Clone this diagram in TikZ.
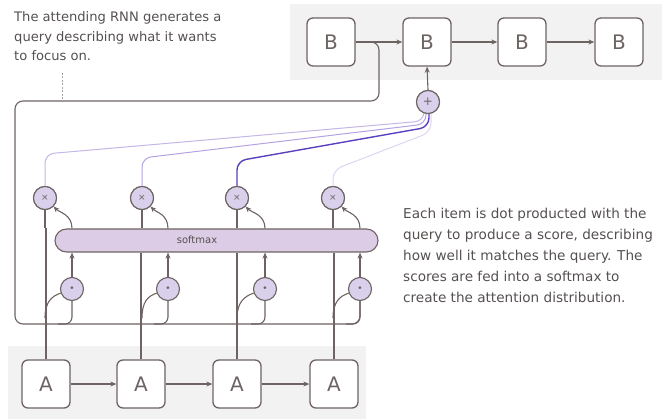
\documentclass[tikz,border=0pt]{standalone}
\usepackage{fontspec}
\setmainfont{DejaVu Sans}
\usetikzlibrary{arrows.meta,calc}
\definecolor{ln}{HTML}{6E6363}
\definecolor{txt}{HTML}{555050}
\definecolor{bg}{HTML}{F3F2F3}
\definecolor{circfill}{HTML}{D9D0EC}
\definecolor{smfill}{HTML}{DDCCE6}
\definecolor{pl1}{HTML}{C4B6E6}
\definecolor{pl2}{HTML}{B4A2E2}
\definecolor{pl3}{HTML}{5A3FBE}
\definecolor{pl4}{HTML}{DED4F2}
\tikzset{
  cellbox/.style={draw=ln, line width=1.3pt, fill=white, rounded corners=6pt,
    minimum width=48pt, minimum height=48pt, inner sep=0pt, text=ln,
    font=\fontsize{20}{20}\selectfont},
  opcirc/.style={circle, draw=ln, line width=1.1pt, fill=circfill, minimum size=23pt,
    inner sep=0pt, text=ln, font=\fontsize{9}{9}\selectfont},
  wire/.style={draw=ln, line width=1.1pt},
  arr/.style={wire, -{Stealth[length=6pt,width=5pt]}},
  note/.style={text=txt, align=left, inner sep=0pt},
}
\begin{document}
\begin{tikzpicture}[x=1pt,y=-1pt]
\useasboundingbox (0,0) rectangle (668,419);
% background bands
\fill[bg] (290,4) rectangle (662,80);
\fill[bg] (8,346) rectangle (366,419);

% nodes: A row
\node[cellbox] (a1) at (46,384) {A};
\node[cellbox] (a2) at (141,384) {A};
\node[cellbox] (a3) at (237,384) {A};
\node[cellbox] (a4) at (334,384) {A};
% B row
\node[cellbox] (b1) at (331,42) {B};
\node[cellbox] (b2) at (427,42) {B};
\node[cellbox] (b3) at (522,42) {B};
\node[cellbox] (b4) at (619,42) {B};

% coordinates
\coordinate (qa) at (379,42);
\coordinate (qb) at (379,101);
\coordinate (qc) at (15,101);
\coordinate (qd) at (15,324);

% query line
\draw[wire, rounded corners=8pt] (b1.east) -- (qa) -- (qb) -- (qc) -- (qd) -- (360,324) -- (360,300);

% dashed pointer from text
\coordinate (t1) at (62,73);
\coordinate (t2) at (62,100);
\draw[ln!60, line width=0.6pt, dash pattern=on 2pt off 1.5pt] (t1) -- (t2);

% softmax
\node[draw=ln, line width=1.1pt, fill=smfill, rounded corners=11.5pt,
  minimum width=323pt, minimum height=23pt, inner sep=0pt] (sm) at (216.5,240.5) {};
\node[text=txt, font=\fontsize{10}{10}\selectfont] (smt) at (197,240) {softmax};

% × circles
\node[opcirc] (m1) at (45,198) {×};
\node[opcirc] (m2) at (142,198) {×};
\node[opcirc] (m3) at (237,198) {×};
\node[opcirc] (m4) at (333,198) {×};

% vertical A lines (interrupted by the softmax bar)
\foreach \i in {1,2,3,4}{
  \draw[wire] (a\i.north) -- (a\i.north |- sm.south);
  \draw[wire] (m\i.south |- sm.north) -- (m\i.south);
}
\draw[wire] (a1.north |- sm.south) -- (a1.north |- sm.north);

% dot circles
\node[opcirc] (d1) at (72,289) {•};
\node[opcirc] (d2) at (168,289) {•};
\node[opcirc] (d3) at (265,289) {•};
\node[opcirc] (d4) at (360,289) {•};

\foreach \i/\x in {1/45,2/142,3/237,4/333}{
  % query branch into dot
  \draw[wire, rounded corners=7pt] (d\i.south) -- (d\i.south |- qd) -- ++(-14,0);
  % hidden state branch into dot
  \draw[wire] (\x,318) .. controls (\x,302) and ($(d\i.200)+(-9,3)$) .. (d\i.200);
  % dot to softmax
  \draw[arr] (d\i.north) -- (d\i.north |- sm.south);
  % softmax to ×
  \draw[arr] (d\i.north |- sm.north) .. controls ($(d\i.north |- sm.north)+(0,-14)$) and ($(m\i.-45)+(6,6)$) .. (m\i.-45);
}
% redraw × circles on top
\foreach \i in {1,2,3,4}{
  \node[opcirc] at (m\i) {×};
}

% plus circle
\node[opcirc, font=\fontsize{12}{12}\selectfont] (p) at (428,102) {+};

% purple lines
\draw[pl4, line width=1pt, rounded corners=9pt] (m4.north) -- (333,170) -- (431,132) -- (431,113.5);
\draw[pl1, line width=1pt, rounded corners=9pt] (m1.north) -- (45,154) -- (424,121) -- (424,113.5);
\draw[pl2, line width=1pt, rounded corners=9pt] (m2.north) -- (142,158) -- (426,124) -- (426,113.5);
\draw[pl3, line width=1.4pt, rounded corners=9pt] (m3.north) -- (237,161) -- (429,127) -- (429,113.5);
\node[opcirc, font=\fontsize{12}{12}\selectfont] at (p) {+};

% arrows
\draw[arr] (p.north) -- (b2.south);
\draw[arr] (b1.east) -- (b2.west);
\draw[arr] (b2.east) -- (b3.west);
\draw[arr] (b3.east) -- (b4.west);
\draw[arr] (a1.east) -- (a2.west);
\draw[arr] (a2.east) -- (a3.west);
\draw[arr] (a3.east) -- (a4.west);

% texts
\node[note, anchor=north west, font=\fontsize{13.1}{19.5}\selectfont] (n1) at (14,11.5) {The attending RNN generates a\\query describing what it wants\\to focus on.};
\node[note, anchor=north west, font=\fontsize{13.6}{21}\selectfont] (n2) at (403,208) {Each item is dot producted with the\\query to produce a score, describing\\how well it matches the query. The\\scores are fed into a softmax to\\create the attention distribution.};
\end{tikzpicture}
\end{document}
